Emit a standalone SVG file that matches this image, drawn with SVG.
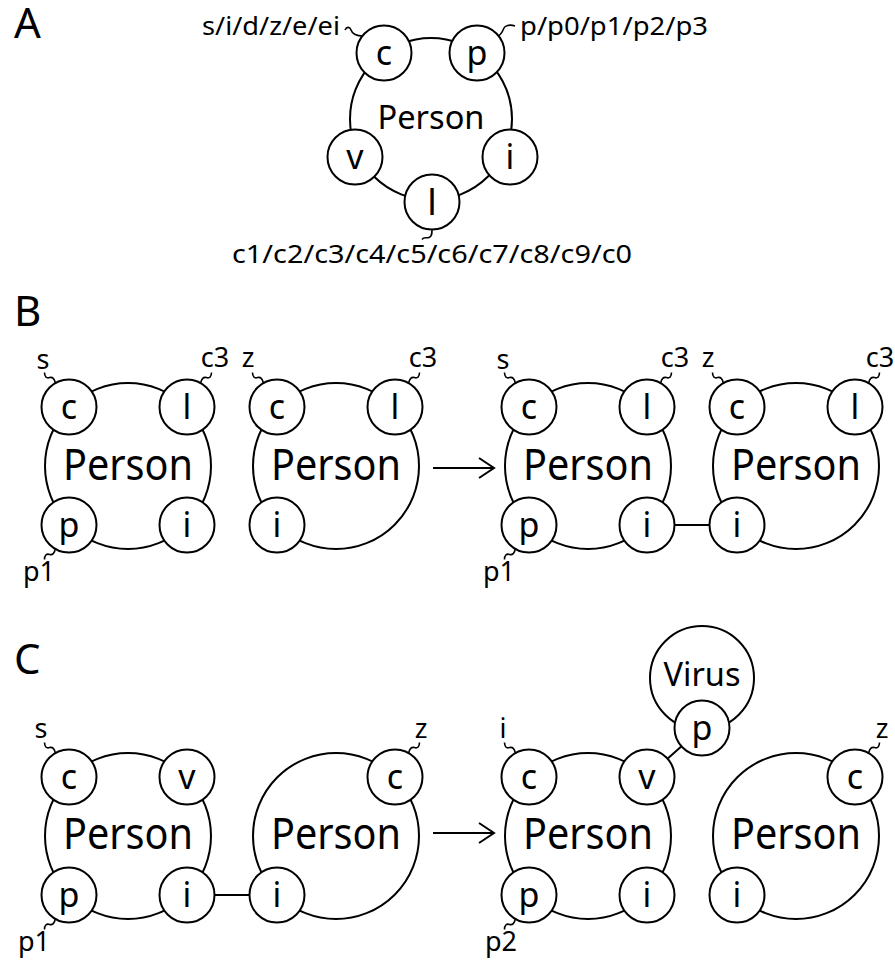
<svg xmlns="http://www.w3.org/2000/svg" width="895" height="960" viewBox="0 0 895 960">
<style>
.big{fill:none;stroke:#000;stroke-width:2}
.port{fill:#fff;stroke:#000;stroke-width:2}
.tl{fill:none;stroke:#000;stroke-width:1.6}
.ln{fill:none;stroke:#000;stroke-width:2}
text{font-family:"Noto Sans","Open Sans",sans-serif;fill:#000}
.pl{font-size:34px;text-anchor:middle}
.nm{font-size:43px;text-anchor:middle}
.lb{font-size:27px;text-anchor:middle}
.la{font-size:26px}
.pn{font-size:42px}
</style>
<defs>
<marker id="arr" viewBox="0 0 20 24" refX="18" refY="12" markerWidth="20" markerHeight="24" markerUnits="userSpaceOnUse" orient="auto">
<path d="M3,2 L18,12 L3,22" fill="none" stroke="#000" stroke-width="2"/>
</marker>
</defs>

<text class="pn" x="14" y="38">A</text>
<text class="pn" x="14" y="326">B</text>
<text class="pn" x="14" y="674">C</text>

<!-- Panel A -->
<g id="a-person">
<circle class="big" cx="431" cy="119" r="81"/>
<text x="431" y="129" style="font-size:33px;text-anchor:middle" textLength="107" lengthAdjust="spacingAndGlyphs">Person</text>
<circle class="port" cx="384" cy="53" r="27.5"/><text class="pl" x="384" y="65">c</text>
<circle class="port" cx="477" cy="53" r="27.5"/><text class="pl" x="477" y="65">p</text>
<circle class="port" cx="355" cy="157" r="27.5"/><text class="pl" x="355" y="169">v</text>
<circle class="port" cx="510" cy="157" r="27.5"/><text class="pl" x="510" y="169">i</text>
<circle class="port" cx="432" cy="202" r="27.5"/><text class="pl" x="432" y="215" style="font-size:37px">l</text>
<path class="tl" d="M345,30 c2,-4 5,-3 6,0 s4,6 12,6"/>
<text class="la" x="202" y="35" textLength="138" lengthAdjust="spacingAndGlyphs">s/i/d/z/e/ei</text>
<path class="tl" d="M498,36 c4,-2 5,-6 6,-8 s5,-4 11,-2"/>
<text class="la" x="520" y="35" textLength="188" lengthAdjust="spacingAndGlyphs">p/p0/p1/p2/p3</text>
<path class="tl" d="M432,229.5 c0,4 0,7 -3,8 s-5,-1 -7,2"/>
<text class="la" x="432" y="263" text-anchor="middle" textLength="400" lengthAdjust="spacingAndGlyphs">c1/c2/c3/c4/c5/c6/c7/c8/c9/c0</text>
</g>

<!-- Panel B -->
<g id="b-person1">
<circle class="big" cx="128" cy="466" r="83"/>
<text class="nm" x="128" y="480" textLength="130" lengthAdjust="spacingAndGlyphs">Person</text>
<circle class="port" cx="69" cy="407" r="27.5"/><text class="pl" x="69" y="419">c</text>
<circle class="port" cx="187" cy="407" r="27.5"/><text class="pl" x="187" y="419">l</text>
<circle class="port" cx="69" cy="525" r="27.5"/><text class="pl" x="69" y="537">p</text>
<circle class="port" cx="187" cy="525" r="27.5"/><text class="pl" x="187" y="537">i</text>
<path class="tl" d="M44.5,372.6 c0,4 2,6 5,5 s5,1 6,6"/>
<text class="lb" x="43" y="369">s</text>
<path class="tl" d="M211.5,372.6 c0,4 -2,6 -5,5 s-5,1 -6,6"/>
<text class="lb" x="215" y="367">c3</text>
<path class="tl" d="M44.5,559.4 c0,-4 2,-6 5,-5 s5,-1 6,-6"/>
<text class="lb" x="39" y="581">p1</text>
</g>
<g id="b-person2">
<circle class="big" cx="336" cy="466" r="83"/>
<text class="nm" x="336" y="480" textLength="130" lengthAdjust="spacingAndGlyphs">Person</text>
<circle class="port" cx="277" cy="407" r="27.5"/><text class="pl" x="277" y="419">c</text>
<circle class="port" cx="395" cy="407" r="27.5"/><text class="pl" x="395" y="419">l</text>
<circle class="port" cx="277" cy="525" r="27.5"/><text class="pl" x="277" y="537">i</text>
<path class="tl" d="M252.5,372.6 c0,4 2,6 5,5 s5,1 6,6"/>
<text class="lb" x="248" y="367">z</text>
<path class="tl" d="M419.5,372.6 c0,4 -2,6 -5,5 s-5,1 -6,6"/>
<text class="lb" x="423" y="367">c3</text>
</g>
<g id="b-person3">
<circle class="big" cx="588" cy="466" r="83"/>
<text class="nm" x="588" y="480" textLength="130" lengthAdjust="spacingAndGlyphs">Person</text>
<circle class="port" cx="529" cy="407" r="27.5"/><text class="pl" x="529" y="419">c</text>
<circle class="port" cx="647" cy="407" r="27.5"/><text class="pl" x="647" y="419">l</text>
<circle class="port" cx="529" cy="525" r="27.5"/><text class="pl" x="529" y="537">p</text>
<circle class="port" cx="647" cy="525" r="27.5"/><text class="pl" x="647" y="537">i</text>
<path class="tl" d="M504.5,372.6 c0,4 2,6 5,5 s5,1 6,6"/>
<text class="lb" x="503" y="369">s</text>
<path class="tl" d="M671.5,372.6 c0,4 -2,6 -5,5 s-5,1 -6,6"/>
<text class="lb" x="675" y="367">c3</text>
<path class="tl" d="M504.5,559.4 c0,-4 2,-6 5,-5 s5,-1 6,-6"/>
<text class="lb" x="499" y="581">p1</text>
</g>
<g id="b-person4">
<circle class="big" cx="796" cy="466" r="83"/>
<text class="nm" x="796" y="480" textLength="130" lengthAdjust="spacingAndGlyphs">Person</text>
<circle class="port" cx="737" cy="407" r="27.5"/><text class="pl" x="737" y="419">c</text>
<circle class="port" cx="855" cy="407" r="27.5"/><text class="pl" x="855" y="419">l</text>
<circle class="port" cx="737" cy="525" r="27.5"/><text class="pl" x="737" y="537">i</text>
<path class="tl" d="M712.5,372.6 c0,4 2,6 5,5 s5,1 6,6"/>
<text class="lb" x="708" y="367">z</text>
<path class="tl" d="M879.5,372.6 c0,4 -2,6 -5,5 s-5,1 -6,6"/>
<text class="lb" x="880" y="367">c3</text>
</g>

<!-- Panel C -->
<g id="c-person1">
<circle class="big" cx="128" cy="836" r="83"/>
<text class="nm" x="128" y="849" textLength="130" lengthAdjust="spacingAndGlyphs">Person</text>
<circle class="port" cx="69" cy="777" r="27.5"/><text class="pl" x="69" y="789">c</text>
<circle class="port" cx="187" cy="777" r="27.5"/><text class="pl" x="187" y="789">v</text>
<circle class="port" cx="69" cy="895" r="27.5"/><text class="pl" x="69" y="907">p</text>
<circle class="port" cx="187" cy="895" r="27.5"/><text class="pl" x="187" y="907">i</text>
<path class="tl" d="M44.5,742.6 c0,4 2,6 5,5 s5,1 6,6"/>
<text class="lb" x="41" y="738">s</text>
<path class="tl" d="M44.5,929.4 c0,-4 2,-6 5,-5 s5,-1 6,-6"/>
<text class="lb" x="34" y="951">p1</text>
</g>
<g id="c-person2">
<circle class="big" cx="336" cy="836" r="83"/>
<text class="nm" x="336" y="849" textLength="130" lengthAdjust="spacingAndGlyphs">Person</text>
<circle class="port" cx="395" cy="777" r="27.5"/><text class="pl" x="395" y="789">c</text>
<circle class="port" cx="277" cy="895" r="27.5"/><text class="pl" x="277" y="907">i</text>
<path class="tl" d="M419.5,742.6 c0,4 -2,6 -5,5 s-5,1 -6,6"/>
<text class="lb" x="421" y="738">z</text>
</g>
<g id="c-person3">
<circle class="big" cx="588" cy="836" r="83"/>
<text class="nm" x="588" y="849" textLength="130" lengthAdjust="spacingAndGlyphs">Person</text>
<circle class="port" cx="529" cy="777" r="27.5"/><text class="pl" x="529" y="789">c</text>
<circle class="port" cx="647" cy="777" r="27.5"/><text class="pl" x="647" y="789">v</text>
<circle class="port" cx="529" cy="895" r="27.5"/><text class="pl" x="529" y="907">p</text>
<circle class="port" cx="647" cy="895" r="27.5"/><text class="pl" x="647" y="907">i</text>
<path class="tl" d="M504.5,742.6 c0,4 2,6 5,5 s5,1 6,6"/>
<text class="lb" x="503" y="738">i</text>
<path class="tl" d="M504.5,929.4 c0,-4 2,-6 5,-5 s5,-1 6,-6"/>
<text class="lb" x="501" y="951">p2</text>
</g>
<g id="c-virus">
<circle class="big" cx="702" cy="678" r="52"/>
<text x="702" y="686" style="font-size:32px;text-anchor:middle" textLength="77" lengthAdjust="spacingAndGlyphs">Virus</text>
<circle class="port" cx="702" cy="728" r="27.5"/><text class="pl" x="702" y="740">p</text>
</g>
<g id="c-person4">
<circle class="big" cx="796" cy="836" r="83"/>
<text class="nm" x="796" y="849" textLength="130" lengthAdjust="spacingAndGlyphs">Person</text>
<circle class="port" cx="855" cy="777" r="27.5"/><text class="pl" x="855" y="789">c</text>
<circle class="port" cx="737" cy="895" r="27.5"/><text class="pl" x="737" y="907">i</text>
<path class="tl" d="M879.5,742.6 c0,4 -2,6 -5,5 s-5,1 -6,6"/>
<text class="lb" x="882" y="738">z</text>
</g>

<g id="connectors">
<line class="ln" x1="433" y1="468" x2="494" y2="468" marker-end="url(#arr)"/>
<line class="ln" x1="433" y1="833" x2="494" y2="833" marker-end="url(#arr)"/>
<line class="ln" x1="674.5" y1="525" x2="709.5" y2="525"/>
<line class="ln" x1="214.5" y1="895" x2="249.5" y2="895"/>
<line class="ln" x1="667.5" y1="758.7" x2="681.5" y2="746.3"/>
</g>
</svg>
